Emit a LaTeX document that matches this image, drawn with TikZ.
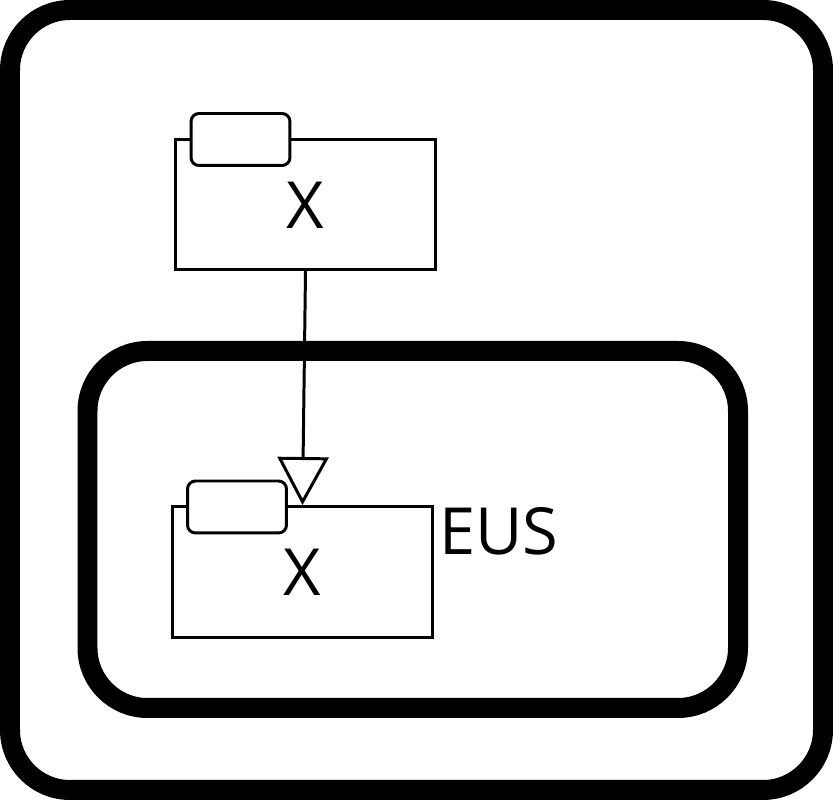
\documentclass[tikz,border=0pt]{standalone}
\usepackage{fontspec}
\setmainfont{Open Sans}
\usetikzlibrary{arrows.meta,positioning}

\begin{document}
\begin{tikzpicture}[
  x=0.02cm, y=-0.02cm,
  font=\fontsize{37}{40}\selectfont,
  line cap=round,
  region/.style={line width=0.4cm, rounded corners=1.2cm},
  actor/.style={draw, line width=1.7pt, minimum width=5.22cm, minimum height=2.62cm, inner sep=0pt},
  tabbox/.style={draw, fill=white, line width=1.7pt, rounded corners=0.16cm, minimum width=1.98cm, minimum height=1.04cm, inner sep=0pt},
  flow/.style={line width=1.7pt, -{Triangle[open, length=0.96cm, width=1.02cm, line width=1.7pt]}},
]
\useasboundingbox (0,0) rectangle (833,800);
% ---------- regions ----------
\draw[region] (10,10) rectangle (823,790);
\draw[region] (87.5,351) rectangle (738,708);

% ---------- top actor ----------
\node[actor] (topbox) at (305.5,204.5) {};
\node[tabbox] (toptab) at (240.5,139.5) {};
\node (toplab) at (305.5,205) {X};

% ---------- inner actor ----------
\node[actor] (eusbox) at (302.5,572) {};
\node[tabbox] (eustab) at (237,507) {};
\node (euslab) at (302.5,572) {X};
\node[inner sep=0pt, anchor=base west] (eusname) at (439,555) {EUS};

\draw[flow] (topbox.south) -- (eusbox.north);
\end{tikzpicture}
\end{document}
